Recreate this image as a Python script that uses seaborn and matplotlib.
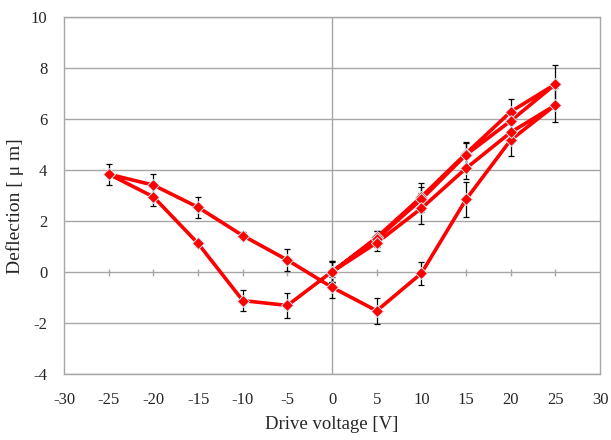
import numpy as np
import pandas as pd
import matplotlib
matplotlib.use('Agg')
import matplotlib.pyplot as plt
import seaborn as sns

# Données (boucle de tension)
tension = [0, 5, 10, 15, 20, 25, 20, 15, 10, 5, 0,
           -5, -10, -15, -20, -25, -20, -15, -10, -5, 0,
           5, 10, 15, 20, 25, 20, 15, 10, 5, 0]
deflexion = [0.0, 1.36, 2.95, 4.65, 6.29, 7.37, 5.93, 4.6, 2.85, 1.3, 0.02,
             -1.31, -1.12, 1.12, 2.95, 3.84, 3.41, 2.54, 1.43, 0.47, -0.6,
             -1.52, -0.05, 2.85, 5.18, 6.55, 5.48, 4.07, 2.5, 1.15, 0.01]
erreur = [0.42, 0.26, 0.53, 0.46, 0.49, 0.75, 0.4, 0.45, 0.5, 0.3, 0.4,
          0.5, 0.42, 0.1, 0.37, 0.41, 0.42, 0.41, 0.15, 0.43, 0.4,
          0.5, 0.46, 0.68, 0.63, 0.68, 0.4, 0.4, 0.62, 0.33, 0.4]

x_ticks = list(range(-30, 31, 5))
y_ticks = list(range(-4, 11, 2))

df = pd.DataFrame({'tension': tension, 'deflexion': deflexion, 'erreur': erreur})

sns.set_style('white')
plt.rcParams['font.family'] = ['Liberation Serif', 'DejaVu Serif']
plt.rcParams['axes.unicode_minus'] = False

fig = plt.figure(figsize=(6.11, 4.40), dpi=100)
ax = fig.add_axes([0.105, 0.15, 0.877, 0.811])

grid_color = '#a6a6a6'

# Erreurs
ax.errorbar(df['tension'], df['deflexion'], yerr=df['erreur'], fmt='none',
            ecolor='black', elinewidth=0.9, capsize=2.5, capthick=0.9, zorder=3)

# Courbe
sns.lineplot(data=df, x='tension', y='deflexion', sort=False, estimator=None,
             color='#ff0000', linewidth=2.6, marker='D', markersize=6.5,
             markeredgecolor='#cfe9ef', markeredgewidth=0.7, ax=ax, zorder=4)

ax.set_xlim(-30, 30)
ax.set_ylim(-4, 10)
ax.set_xticks(x_ticks)
ax.set_yticks(y_ticks)
ax.tick_params(axis='both', length=0, labelsize=12)
ax.tick_params(axis='x', pad=13)
ax.tick_params(axis='y', pad=12)

# Grille horizontale et axe vertical en x=0
for y in y_ticks:
    ax.axhline(y, color=grid_color, linewidth=1.0, zorder=1)
ax.axvline(0, color=grid_color, linewidth=1.0, zorder=1)
# petites graduations sur l'axe y=0
ax.vlines([t for t in x_ticks if t not in (-30, 0, 30)], -0.15, 0.1,
          color=grid_color, linewidth=1.0, zorder=1)

for s in ax.spines.values():
    s.set_color(grid_color)
    s.set_linewidth(1.0)

ax.set_xlabel('Drive voltage [V]', fontsize=13.5, labelpad=6)
ax.set_ylabel('Deflection [ \u03bc m]', fontsize=14)
ax.yaxis.set_label_coords(-0.075, 0.47)

fig.savefig('out.png', dpi=100)
